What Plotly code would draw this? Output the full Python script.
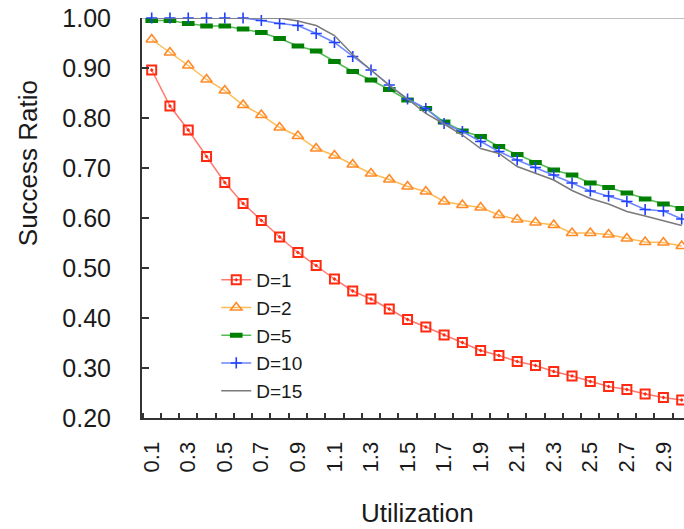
import plotly.graph_objects as go

utilization = [0.1, 0.2, 0.3, 0.4, 0.5, 0.6, 0.7, 0.8, 0.9, 1.0,
               1.1, 1.2, 1.3, 1.4, 1.5, 1.6, 1.7, 1.8, 1.9, 2.0,
               2.1, 2.2, 2.3, 2.4, 2.5, 2.6, 2.7, 2.8, 2.9, 3.0]
tick_values = [0.1, 0.3, 0.5, 0.7, 0.9, 1.1, 1.3, 1.5, 1.7, 1.9, 2.1, 2.3, 2.5, 2.7, 2.9]
tick_labels = ["0.1", "0.3", "0.5", "0.7", "0.9", "1.1", "1.3", "1.5", "1.7", "1.9",
               "2.1", "2.3", "2.5", "2.7", "2.9"]
y_ticks = [0.2, 0.3, 0.4, 0.5, 0.6, 0.7, 0.8, 0.9, 1.0]

d1 = [0.896, 0.824, 0.776, 0.723, 0.671, 0.629, 0.595, 0.562, 0.531, 0.505,
      0.478, 0.454, 0.438, 0.418, 0.397, 0.382, 0.366, 0.351, 0.335, 0.325,
      0.313, 0.305, 0.293, 0.284, 0.273, 0.263, 0.257, 0.248, 0.241, 0.236]
d2 = [0.957, 0.931, 0.905, 0.877, 0.855, 0.826, 0.806, 0.781, 0.764, 0.739,
      0.725, 0.707, 0.689, 0.677, 0.663, 0.653, 0.633, 0.626, 0.621, 0.606,
      0.597, 0.591, 0.586, 0.570, 0.570, 0.567, 0.559, 0.552, 0.551, 0.544]
d5 = [0.995, 0.995, 0.989, 0.984, 0.984, 0.978, 0.971, 0.959, 0.944, 0.934,
      0.913, 0.893, 0.876, 0.857, 0.836, 0.819, 0.792, 0.774, 0.763, 0.743,
      0.727, 0.711, 0.696, 0.686, 0.670, 0.661, 0.650, 0.638, 0.628, 0.619]
d10 = [1.0, 1.0, 1.0, 1.0, 1.0, 1.0, 0.995, 0.989, 0.985, 0.969,
       0.951, 0.923, 0.896, 0.866, 0.838, 0.819, 0.789, 0.773, 0.753, 0.733,
       0.716, 0.701, 0.686, 0.670, 0.654, 0.644, 0.633, 0.617, 0.614, 0.598]
d15 = [1.0, 1.0, 1.0, 1.0, 1.0, 1.0, 1.0, 1.0, 0.994, 0.985,
       0.965, 0.927, 0.896, 0.865, 0.838, 0.809, 0.788, 0.766, 0.739, 0.729,
       0.703, 0.689, 0.676, 0.655, 0.639, 0.628, 0.613, 0.604, 0.595, 0.585]

FONT = "Liberation Sans, Arial, sans-serif"
TXT = "#1a1a1a"

fig = go.Figure()
fig.add_trace(go.Scatter(
    x=utilization, y=d1, name="D=1", mode="lines+markers", cliponaxis=False,
    line=dict(color="#ff7a70", width=1.5),
    marker=dict(symbol="square-open-dot", size=9, color="#ff2a10",
                line=dict(color="#ff2a10", width=2))))
fig.add_trace(go.Scatter(
    x=utilization, y=d2, name="D=2", mode="lines+markers", cliponaxis=False,
    line=dict(color="#ffbb55", width=1.5),
    marker=dict(symbol="triangle-up-open", size=10, color="#ff8a2a",
                line=dict(color="#ff8a2a", width=1.6))))
fig.add_trace(go.Scatter(
    x=utilization, y=d5, name="D=5", mode="lines+markers", cliponaxis=False,
    line=dict(color="#55bb55", width=1.5),
    marker=dict(symbol="line-ew", size=9, color="#008000",
                line=dict(color="#008000", width=5))))
fig.add_trace(go.Scatter(
    x=utilization, y=d10, name="D=10", mode="lines+markers", cliponaxis=False,
    line=dict(color="#6b86ff", width=1.5),
    marker=dict(symbol="cross-thin", size=8, color="#1f40ff",
                line=dict(color="#1f40ff", width=1.6))))
fig.add_trace(go.Scatter(
    x=utilization, y=d15, name="D=15", mode="lines", cliponaxis=False,
    line=dict(color="#7a7a7a", width=1.5)))

fig.add_shape(type="line", xref="paper", yref="y", x0=0, x1=1, y0=1.0, y1=1.0,
              line=dict(color="#a8a8a8", width=1.5), layer="below")

fig.update_layout(
    width=684, height=529,
    margin=dict(l=142, r=0, t=18, b=111, autoexpand=False),
    paper_bgcolor="white", plot_bgcolor="white",
    font=dict(family=FONT, color=TXT),
    showlegend=True,
    legend=dict(x=0.137, y=0.3925, xanchor="left", yanchor="top",
                bgcolor="rgba(0,0,0,0)", font=dict(size=19, family=FONT, color=TXT),
                tracegroupgap=0),
    xaxis=dict(range=[0.047, 3.0126], tickmode="array", tickvals=tick_values,
               ticktext=tick_labels, tickangle=-90, ticks="",
               tickfont=dict(size=22, family=FONT, color=TXT),
               ticklabelstandoff=13, automargin=False, ticklabeloverflow="allow",
               showline=True, linecolor="#333333", linewidth=2,
               showgrid=False, zeroline=False,
               minor=dict(tickmode="linear", tick0=0.05, dtick=0.1, ticks="inside",
                          ticklen=5, tickcolor="#333333", tickwidth=1.5, showgrid=False)),
    yaxis=dict(range=[0.2, 1.0], tickmode="array", tickvals=y_ticks, tickformat=".2f",
               ticks="inside", ticklen=7, tickcolor="#333333", tickwidth=1.5,
               tickfont=dict(size=25, family=FONT, color=TXT),
               ticklabelstandoff=24, automargin=False, ticklabeloverflow="allow",
               showline=True, linecolor="#333333", linewidth=2,
               showgrid=False, zeroline=False),
    annotations=[
        dict(text="Utilization", xref="paper", yref="paper", x=0.509, y=-0.2375,
             xanchor="center", yanchor="middle", showarrow=False,
             font=dict(size=26, family=FONT, color=TXT)),
        dict(text="Success Ratio", xref="paper", yref="paper", x=-0.21, y=0.6375,
             xanchor="center", yanchor="middle", showarrow=False, textangle=-90,
             font=dict(size=26, family=FONT, color=TXT)),
    ],
)

fig.write_html("out.html", config={"displayModeBar": False},
               post_script="document.body.style.margin='0';document.body.style.overflow='hidden';")
